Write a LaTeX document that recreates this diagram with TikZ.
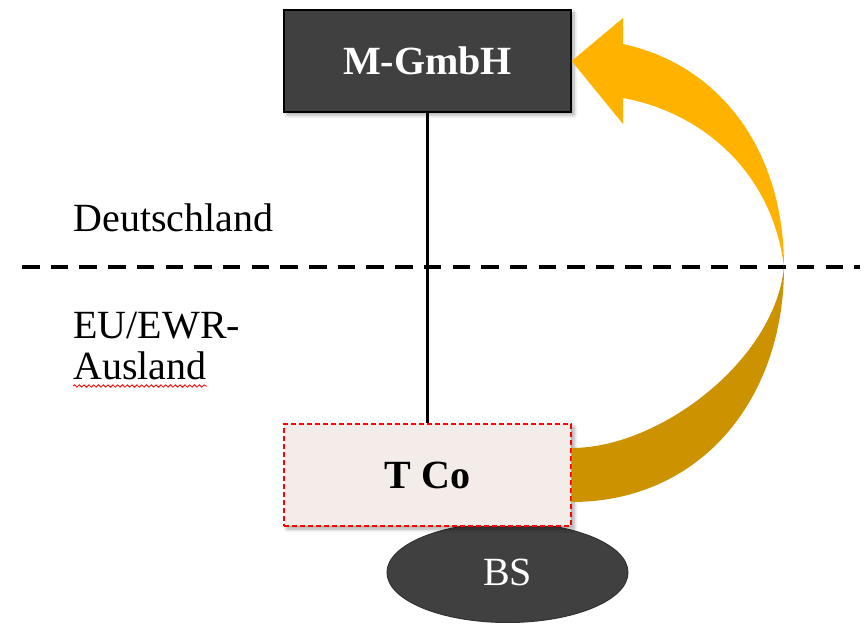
\documentclass[tikz,border=0pt]{standalone}
\usepackage{fontspec}
\setmainfont{Liberation Serif}
\usepackage{tikz}
\usepackage{xcolor}
\usetikzlibrary{positioning, shapes.geometric, shadows.blur, decorations.pathmorphing}

\definecolor{boxgray}{HTML}{404040}
\definecolor{tcofill}{HTML}{F4ECE8}
\definecolor{arrowtop}{HTML}{FFB300}
\definecolor{arrowlow}{HTML}{CC9200}

\begin{document}
\begin{tikzpicture}[x=0.5pt,y=-0.5pt,
  txt/.style={font=\fontsize{20}{23}\selectfont},
  txtbf/.style={font=\fontsize{20}{23}\selectfont\bfseries},
  lbl/.style={txt,anchor=base west,inner sep=0pt},
  company/.style={rectangle,minimum width=143.5pt,minimum height=51pt,
    blur shadow={shadow xshift=1.5pt,shadow yshift=-1.5pt,
      shadow blur steps=6,shadow opacity=35}}]
  \useasboundingbox (0,0) rectangle (864,625);
  % Grenze
  \draw[line width=1.7pt,dash pattern=on 8.75pt off 5.6pt] (22,267) -- (860,267);
  \node[lbl] (de) at (73,232) {Deutschland};
  \node[lbl] (euewr) at (73,339) {EU/EWR-};
  \node[lbl] (ausland) at (73,380) {Ausland};
  \draw[red,line width=0.4pt,decorate,
        decoration={snake,amplitude=0.6pt,segment length=2.4pt}]
       ([yshift=-3pt]ausland.base west) -- ([yshift=-3pt]ausland.base east);
  % Gesellschaften
  \node[company,draw=black,line width=0.7pt,fill=boxgray,
        text=white,txtbf] (mgmbh) at (427.5,61) {M-GmbH};
  \node[ellipse,fill=boxgray,draw=boxgray!80!black,line width=0.5pt,
        minimum width=120.5pt,minimum height=50pt,
        text=white,txt] (bs) at (507.5,572.5) {BS};
  \node[company,draw=red,dash pattern=on 2.5pt off 1.5pt,line width=0.65pt,
        fill=tcofill,txtbf] (tco) at (427.5,475) {T Co};
  \draw[line width=1.35pt] (mgmbh) -- (tco);
  % Rueckfluss
  \fill[arrowtop] (784,267) .. controls (784,150) and (720,65) .. (623,44)
       -- (623,18) -- (mgmbh.east) -- (623,124) -- (623,98)
       .. controls (700,112) and (772,170) .. (784,267) -- cycle;
  \fill[arrowlow] (784,267) .. controls (784,400) and (700,502)
       .. ([yshift=-13.5pt]tco.east) -- ([yshift=13.5pt]tco.east)
       .. controls (660,448) and (775,360) .. (784,267) -- cycle;
\end{tikzpicture}
\end{document}
